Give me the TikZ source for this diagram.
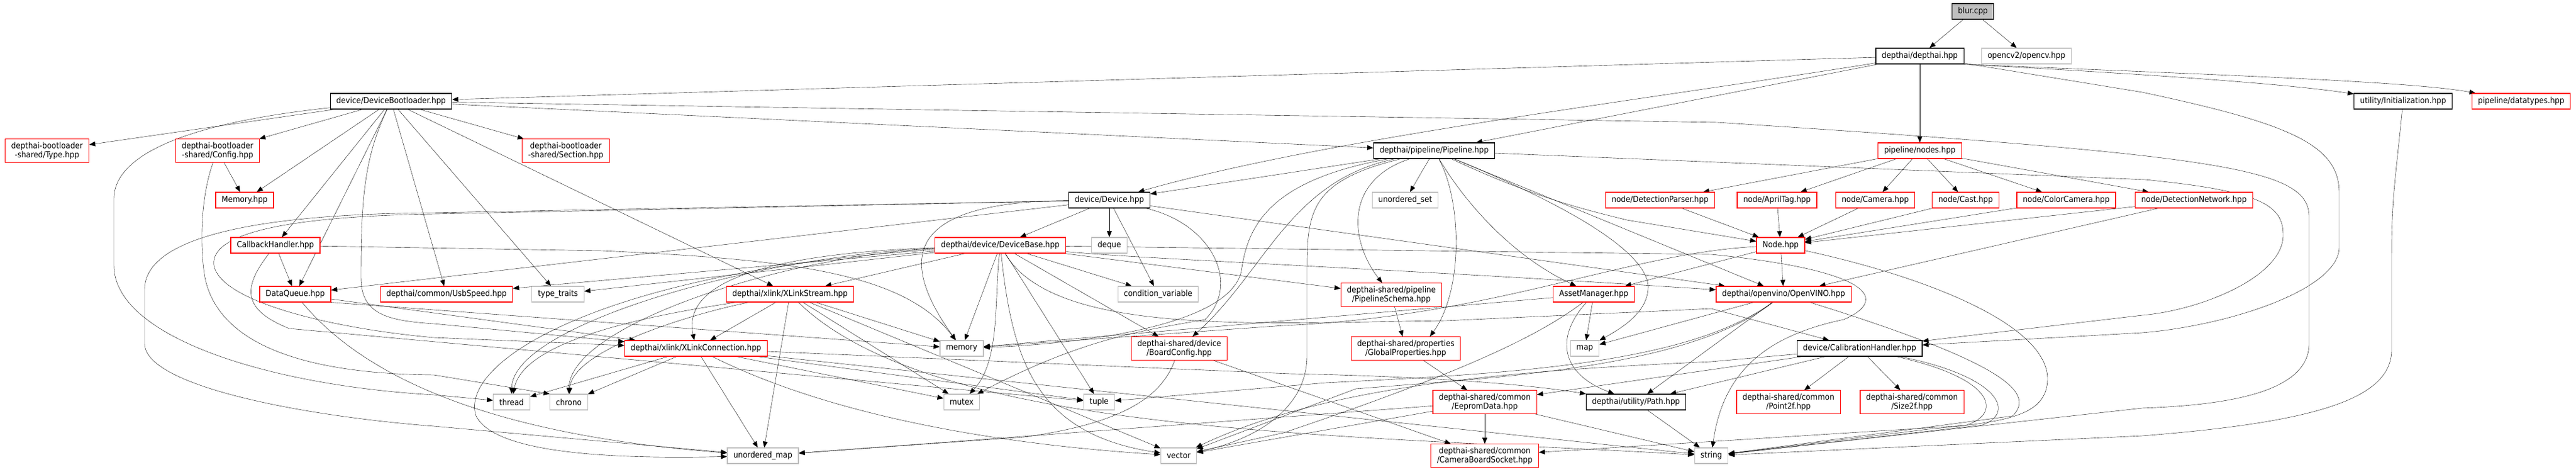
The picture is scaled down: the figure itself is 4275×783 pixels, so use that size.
\documentclass[tikz,border=0pt]{standalone}
\usepackage{fontspec}
\setmainfont{DejaVu Sans Condensed}
\usepackage{tikz}
\usetikzlibrary{arrows.meta,backgrounds}
\definecolor{edgeblue}{HTML}{191970}
\definecolor{sysgray}{HTML}{BFBFBF}
\newcommand{\doxfont}{\fontsize{13.8}{15}\selectfont}

\begin{document}
\begin{tikzpicture}[x=1pt,y=-1pt,->,>={Triangle[length=10pt,width=8pt]},color=edgeblue,line width=1.3pt]
  \tikzset{every node/.style={draw, fill=white, text=black, font=\doxfont, align=center, inner xsep=10pt, inner ysep=5pt, minimum height=26pt, line width=1.2pt},
    blk/.style={draw=black}, trunc/.style={draw=red}, sys/.style={draw=sysgray}, srcfile/.style={draw=black, fill=sysgray}}
  \useasboundingbox (0,0) rectangle (4275,783);

  \node[srcfile] (blur) at (3274,19) {blur.cpp};
  \node[blk] (dai) at (3186,93) {depthai/depthai.hpp};
  \node[sys] (ocv) at (3363,93) {opencv2/opencv.hpp};
  \node[blk] (dbl) at (649,168) {device/DeviceBootloader.hpp};
  \node[blk] (init) at (3988,168) {utility/Initialization.hpp};
  \node[trunc] (dtyp) at (4184,168) {pipeline/datatypes.hpp};

  \node[trunc] (btype) at (78,250) {depthai-bootloader\\-shared/Type.hpp};
  \node[trunc] (bconf) at (361,250) {depthai-bootloader\\-shared/Config.hpp};
  \node[trunc] (bsec) at (939,250) {depthai-bootloader\\-shared/Section.hpp};
  \node[blk] (pipe) at (2380,250) {depthai/pipeline/Pipeline.hpp};
  \node[trunc] (nodes) at (3186,250) {pipeline/nodes.hpp};

  \node[trunc] (bmem) at (406,332) {Memory.hpp};
  \node[blk] (dev) at (1841,332) {device/Device.hpp};
  \node[sys] (uset) at (2332,332) {unordered\_set};
  \node[trunc] (dpar) at (2755,332) {node/DetectionParser.hpp};
  \node[trunc] (april) at (2949,332) {node/AprilTag.hpp};
  \node[trunc] (cam) at (3112,332) {node/Camera.hpp};
  \node[trunc] (cast) at (3262,332) {node/Cast.hpp};
  \node[trunc] (ccam) at (3429,332) {node/ColorCamera.hpp};
  \node[trunc] (dnet) at (3641,332) {node/DetectionNetwork.hpp};

  \node[trunc] (cbh) at (457,407) {CallbackHandler.hpp};
  \node[trunc] (dbase) at (1660,407) {depthai/device/DeviceBase.hpp};
  \node[sys] (deque) at (1841,407) {deque};
  \node[trunc] (nodeh) at (2955,407) {Node.hpp};

  \node[trunc] (dq) at (490,488) {DataQueue.hpp};
  \node[trunc] (usb) at (741,488) {depthai/common/UsbSpeed.hpp};
  \node[sys] (ttraits) at (926,488) {type\_traits};
  \node[trunc] (xls) at (1311,488) {depthai/xlink/XLinkStream.hpp};
  \node[sys] (cvar) at (1922,488) {condition\_variable};
  \node[trunc] (psch) at (2309,489) {depthai-shared/pipeline\\/PipelineSchema.hpp};
  \node[trunc] (asset) at (2645,488) {AssetManager.hpp};
  \node[trunc] (ovino) at (2960,488) {depthai/openvino/OpenVINO.hpp};

  \node[trunc] (xlc) at (1155,578) {depthai/xlink/XLinkConnection.hpp};
  \node[sys] (memory) at (1596,578) {memory};
  \node[trunc] (bcfg) at (1957,578) {depthai-shared/device\\/BoardConfig.hpp};
  \node[trunc] (gprop) at (2333,578) {depthai-shared/properties\\/GlobalProperties.hpp};
  \node[sys] (map) at (2630,578) {map};
  \node[blk] (calib) at (3086,578) {device/CalibrationHandler.hpp};

  \node[sys] (thread) at (849,667) {thread};
  \node[sys] (chrono) at (944,667) {chrono};
  \node[sys] (mutex) at (1596,667) {mutex};
  \node[sys] (tuple) at (1824,667) {tuple};
  \node[trunc] (eeprom) at (2464,667) {depthai-shared/common\\/EepromData.hpp};
  \node[blk] (upath) at (2715,667) {depthai/utility/Path.hpp};
  \node[trunc] (pt2f) at (2968,667) {depthai-shared/common\\/Point2f.hpp};
  \node[trunc] (sz2f) at (3173,667) {depthai-shared/common\\/Size2f.hpp};

  \node[sys] (umap) at (1266,756) {unordered\_map};
  \node[sys] (vector) at (1956,756) {vector};
  \node[trunc] (cbs) at (2464,756) {depthai-shared/common\\/CameraBoardSocket.hpp};
  \node[sys] (string) at (2840,756) {string};

  \begin{pgfonlayer}{background}
  \path (blur) edge (dai) edge (ocv);
  \path (dai) edge (dbl) edge (pipe) edge (nodes);
  \draw (dai) .. controls (2700,170) and (2200,230) .. (dev);
  \draw (dai.south east) .. controls (3600,125) and (3800,140) .. (init);
  \draw (dai.south east) .. controls (3700,125) and (4000,135) .. (dtyp);
  \draw (dai) -- (3555,153) .. controls (3800,205) and (3882,240) .. (3882,320) -- (3882,410) .. controls (3882,480) and (3700,540) .. (3555,552) -- (calib);

  \path (dbl) edge (btype) edge (bconf) edge (bmem) edge (bsec) edge (cbh) edge (dq) edge (usb) edge (ttraits) edge (xls) edge (pipe);
  \draw (dbl) .. controls (300,205) and (189,260) .. (189,330) -- (189,440) .. controls (189,560) and (450,640) .. (720,655) -- (thread);
  \draw (dbl) .. controls (605,260) and (599,330) .. (599,460) .. controls (599,520) and (640,532) .. (720,537) -- (xlc);
  \draw (dbl) -- (2850,203) .. controls (3700,258) and (3832,280) .. (3832,360) -- (3832,570) .. controls (3832,650) and (3700,672) .. (3555,677) -- (string);
  \path (bconf) edge (bmem);
  \draw (bconf) .. controls (335,320) and (330,400) .. (340,460) .. controls (360,560) and (480,620) .. (720,622) -- (chrono.north west);

  \path (cbh) edge (dq);
  \draw (cbh) -- (1000,416) .. controls (1300,430) and (1500,450) .. (memory);
  \draw (cbh) .. controls (400,480) and (405,515) .. (480,545) -- (tuple);
  \path (dq.south east) edge (memory);
  \path (dq) edge (xlc);
  \draw (dq) .. controls (600,620) and (800,720) .. (umap);

  \path (dev) edge (dbase) edge (deque) edge (cvar) edge (dq) edge (ovino);
  \draw (dev) .. controls (1500,335) and (1490,430) .. (memory);
  \draw (dev) .. controls (2010,370) and (2060,470) .. (2000,530) .. controls (1900,548) and (1800,560) .. (mutex);
  \draw (dev) -- (720,353) .. controls (400,355) and (240,400) .. (240,480) -- (240,570) .. controls (240,640) and (500,690) .. (720,707) -- (umap);
  \draw (dev) -- (720,355) .. controls (420,360) and (350,400) .. (355,440) .. controls (365,500) and (550,545) .. (720,560) -- (xlc);

  \path (dbase) edge (ttraits) edge (usb) edge (xls) edge (memory) edge (tuple) edge (cvar) edge (bcfg) edge (psch);
  \draw (dbase) .. controls (1250,425) and (850,540) .. (thread);
  \draw (dbase) .. controls (1300,425) and (945,540) .. (chrono);
  \draw (dbase) .. controls (1300,420) and (1130,460) .. (xlc);
  \draw (dbase) .. controls (1000,450) and (760,600) .. (790,690) .. controls (820,750) and (1000,762) .. (umap);
  \draw (dbase) .. controls (1650,500) and (1660,600) .. (mutex);
  \draw (dbase) .. controls (1680,600) and (1720,720) .. (vector);
  \draw (dbase) .. controls (1900,430) and (2300,445) .. (ovino);
  \draw (dbase) .. controls (1750,560) and (2100,535) .. (2400,532) -- (2840,512) -- (calib);
  \draw (dbase) -- (2840,422) .. controls (3120,450) and (3130,500) .. (3060,530) .. controls (2940,555) and (2860,610) .. (string);

  \path (xls) edge (xlc) edge (umap) edge (memory) edge (mutex) edge (vector);
  \draw (xls) .. controls (1100,520) and (870,560) .. (thread);
  \draw (xls) .. controls (1150,520) and (950,580) .. (chrono);
  \draw (xls) .. controls (1550,720) and (2200,720) .. (string);
  \path (xlc) edge (thread) edge (chrono) edge (umap) edge (tuple) edge (mutex) edge (string);
  \draw (xlc) .. controls (1400,700) and (1700,740) .. (vector);
  \draw (xlc) -- (2140,620) .. controls (2400,625) and (2550,640) .. (upath);

  \path (pipe) edge (uset) edge (ovino) edge (dev);
  \draw (pipe) .. controls (2230,300) and (2240,400) .. (psch);
  \draw (pipe) .. controls (2425,330) and (2430,480) .. ([xshift=40pt]gprop.north);
  \draw (pipe) .. controls (2440,350) and (2520,430) .. (asset);
  \draw (pipe) .. controls (2600,340) and (2740,420) .. (2735,480) .. controls (2732,520) and (2690,545) .. (map);
  \draw (pipe) .. controls (2550,330) and (2640,350) .. (2700,365) -- (nodeh);
  \draw (pipe) .. controls (2100,300) and (2070,380) .. (2060,450) .. controls (2040,540) and (1800,570) .. (memory);
  \draw (pipe) .. controls (2140,300) and (2100,450) .. (bcfg);
  \draw (pipe) .. controls (2175,300) and (2169,350) .. (2169,450) -- (2169,590) .. controls (2169,680) and (2080,730) .. (vector);
  \draw (pipe) -- (3560,298) .. controls (3752,317) and (3789,340) .. (3789,390) .. controls (3789,460) and (3650,515) .. (3555,523) -- (calib);

  \path (nodes) edge (dpar) edge (april) edge (cam) edge (cast) edge (ccam) edge (dnet);
  \path (dpar) edge (nodeh);
  \path (april) edge (nodeh);
  \path (cam) edge (nodeh);
  \path (cast) edge (nodeh);
  \path (ccam) edge (nodeh);
  \path (dnet) edge (nodeh) edge (ovino);
  \path (nodeh) edge (ovino) edge (asset);
  \draw (nodeh) .. controls (2700,420) and (2480,525) .. (2130,540) -- (memory);
  \draw (nodeh) .. controls (3200,460) and (3400,540) .. (3398,630) .. controls (3396,690) and (3330,700) .. (3200,712) -- (string);

  \path (asset) edge (map) edge (memory);
  \draw (asset) .. controls (2580,560) and (2590,620) .. (upath);
  \draw (asset) .. controls (2550,560) and (2420,620) .. (2130,718) -- (vector);
  \path (ovino) edge (map) edge (upath);
  \draw (ovino) .. controls (2800,605) and (2500,620) .. (2200,635) -- (tuple);
  \draw (ovino) .. controls (2800,610) and (2500,625) .. (2250,645) -- (vector);
  \draw (ovino) .. controls (3320,600) and (3380,650) .. (3340,690) -- (string);

  \path (calib) edge (pt2f) edge (sz2f) edge (eeprom) edge (upath);
  \draw (calib) .. controls (3320,625) and (3345,685) .. (3290,705) -- (string);
  \draw (calib) .. controls (3320,630) and (3320,690) .. (3260,706) -- (cbs);
  \draw (calib) -- (2840,600) .. controls (2500,615) and (2200,640) .. (vector);

  \path (eeprom) edge (cbs) edge (umap) edge (vector) edge (string);
  \path (upath) edge (string);
  \path (psch) edge (gprop);
  \path (gprop) edge (eeprom);
  \path (bcfg) edge (cbs);
  \draw (bcfg) .. controls (1930,650) and (1880,700) .. (1700,725) -- (umap);
  \draw (init) .. controls (3975,300) and (3969,330) .. (3969,420) -- (3969,580) .. controls (3969,660) and (3850,700) .. (3555,723) -- (string);
  \end{pgfonlayer}
\end{tikzpicture}
\end{document}
